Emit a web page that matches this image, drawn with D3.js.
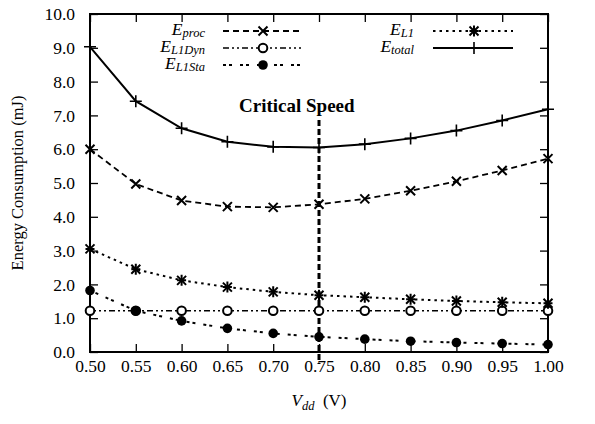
<!DOCTYPE html>
<html>
<head>
<meta charset="utf-8">
<script src="https://cdn.jsdelivr.net/npm/d3@7"></script>
<style>
body { margin:0; background:#fff; }
</style>
</head>
<body>
<svg id="chart" width="595" height="424"></svg>
<script>

// data
var vdd = [0.50, 0.55, 0.60, 0.65, 0.70, 0.75, 0.80, 0.85, 0.90, 0.95, 1.00];
var eTotal = [9.03, 7.42, 6.62, 6.22, 6.07, 6.05, 6.15, 6.32, 6.55, 6.85, 7.18];
var eProc = [6.00, 4.97, 4.48, 4.30, 4.28, 4.37, 4.53, 4.77, 5.05, 5.37, 5.72];
var eL1 = [3.05, 2.45, 2.12, 1.92, 1.78, 1.68, 1.62, 1.56, 1.51, 1.47, 1.44];
var eL1Dyn = [1.22, 1.22, 1.22, 1.22, 1.22, 1.22, 1.22, 1.22, 1.22, 1.22, 1.22];
var eL1Sta = [1.82, 1.22, 0.92, 0.70, 0.55, 0.45, 0.38, 0.32, 0.28, 0.25, 0.22];
var yTicks = [0, 1, 2, 3, 4, 5, 6, 7, 8, 9, 10];
var criticalSpeed = 0.75;

var colorBlack = '#000';
var serifFont = "'Liberation Serif', 'Times New Roman', Times, 'DejaVu Serif', serif";

var svg = d3.select('#chart')
            .attr('font-family', serifFont);

var plotLeft = 90, plotRight = 548, plotTop = 14, plotBottom = 352;

var x = d3.scaleLinear().domain([0.5, 1.0]).range([plotLeft, plotRight]);
var y = d3.scaleLinear().domain([0, 10]).range([plotBottom, plotTop]);

// axes, ticks inside
var axisB = d3.axisBottom(x).tickValues(vdd).tickFormat(d3.format('.2f'))
              .tickSizeInner(-8).tickSizeOuter(0).tickPadding(8);
var axisT = d3.axisTop(x).tickValues(vdd).tickFormat('')
              .tickSizeInner(-8).tickSizeOuter(0);
var axisL = d3.axisLeft(y).tickValues(yTicks).tickFormat(d3.format('.1f'))
              .tickSizeInner(-8).tickSizeOuter(0).tickPadding(15);
var axisR = d3.axisRight(y).tickValues(yTicks).tickFormat('')
              .tickSizeInner(-8).tickSizeOuter(0);

function styleAxis(g) {
  g.attr('font-family', serifFont).attr('font-size', 17.5);
  g.select('.domain').remove();
  g.selectAll('.tick line').attr('stroke', colorBlack).attr('stroke-width', 1.3);
  g.selectAll('.tick text').attr('fill', colorBlack);
}

svg.append('g').attr('transform', 'translate(0,' + plotBottom + ')').call(axisB).call(styleAxis);
svg.append('g').attr('transform', 'translate(0,' + plotTop + ')').call(axisT).call(styleAxis);
svg.append('g').attr('transform', 'translate(' + plotLeft + ',0)').call(axisL).call(styleAxis);
svg.append('g').attr('transform', 'translate(' + plotRight + ',0)').call(axisR).call(styleAxis);

svg.append('rect')
   .attr('x', plotLeft)
   .attr('y', plotTop)
   .attr('width', plotRight - plotLeft)
   .attr('height', plotBottom - plotTop)
   .attr('fill', 'none')
   .attr('stroke', colorBlack)
   .attr('stroke-width', 2);

// axis titles
svg.append('text')
   .text('Energy Consumption (mJ)')
   .attr('transform', 'translate(23,' + ((plotTop + plotBottom) / 2) + ') rotate(-90)')
   .attr('text-anchor', 'middle')
   .attr('font-size', 16.5);

var xTitle = svg.append('text')
                .attr('x', (plotLeft + plotRight) / 2)
                .attr('y', 406)
                .attr('text-anchor', 'middle')
                .attr('font-size', 17);
xTitle.append('tspan').text('V').attr('font-style', 'italic');
xTitle.append('tspan').text('dd').attr('font-style', 'italic')
      .attr('font-size', 12.5).attr('dy', 4);
xTitle.append('tspan').text('\u00a0\u00a0(V)').attr('dy', -4);

// critical speed marker
svg.append('line')
   .attr('x1', x(criticalSpeed))
   .attr('x2', x(criticalSpeed))
   .attr('y1', 120)
   .attr('y2', 364)
   .attr('stroke', colorBlack)
   .attr('stroke-width', 3)
   .attr('stroke-dasharray', '6,3');

svg.append('text')
   .text('Critical Speed')
   .attr('x', x(criticalSpeed) - 80)
   .attr('y', 112)
   .attr('text-anchor', 'start')
   .attr('font-size', 19)
   .attr('font-weight', 'bold');

// markers
function drawMarker(g, kind, cx, cy) {
  var s = 4.5;
  if (kind === 'cross' || kind === 'star') {
    g.append('path').attr('d', 'M' + (cx - s) + ',' + (cy - s) + 'L' + (cx + s) + ',' + (cy + s) +
                               'M' + (cx - s) + ',' + (cy + s) + 'L' + (cx + s) + ',' + (cy - s))
     .attr('stroke', colorBlack).attr('stroke-width', 2).attr('fill', 'none');
  }
  if (kind === 'star') {
    g.append('path').attr('d', 'M' + cx + ',' + (cy - s - 1) + 'L' + cx + ',' + (cy + s + 1) +
                               'M' + (cx - s) + ',' + cy + 'L' + (cx + s) + ',' + cy)
     .attr('stroke', colorBlack).attr('stroke-width', 2).attr('fill', 'none');
  }
  if (kind === 'plus') {
    g.append('path').attr('d', 'M' + cx + ',' + (cy - 6) + 'L' + cx + ',' + (cy + 6) +
                               'M' + (cx - 6) + ',' + cy + 'L' + (cx + 6) + ',' + cy)
     .attr('stroke', colorBlack).attr('stroke-width', 1.6).attr('fill', 'none');
  }
  if (kind === 'circle') {
    g.append('circle').attr('cx', cx).attr('cy', cy).attr('r', 4.3)
     .attr('fill', '#fff').attr('stroke', colorBlack).attr('stroke-width', 2);
  }
  if (kind === 'dot') {
    g.append('circle').attr('cx', cx).attr('cy', cy).attr('r', 4.8)
     .attr('fill', colorBlack);
  }
}

var series = [
  { name: 'proc',   values: eProc,   dash: '6,4',          width: 1.8, marker: 'cross' },
  { name: 'L1Dyn',  values: eL1Dyn,  dash: '6,3,2,3,2,3',  width: 1.6, marker: 'circle' },
  { name: 'L1Sta',  values: eL1Sta,  dash: '3,3,3,8',      width: 2,   marker: 'dot' },
  { name: 'L1',     values: eL1,     dash: '2.5,4',        width: 2,   marker: 'star' },
  { name: 'total',  values: eTotal,  dash: null,           width: 2,   marker: 'plus' }
];

var line = d3.line()
             .x(function(d, i) { return x(vdd[i]); })
             .y(function(d) { return y(d); });

series.forEach(function(s) {
  svg.append('path')
     .datum(s.values)
     .attr('d', line)
     .attr('fill', 'none')
     .attr('stroke', colorBlack)
     .attr('stroke-width', s.width)
     .attr('stroke-dasharray', s.dash);
  var g = svg.append('g');
  s.values.forEach(function(v, i) { drawMarker(g, s.marker, x(vdd[i]), y(v)); });
});

// legend
var legendPos = [
  { labelX: 205, lineX1: 223, lineX2: 301, y: 31 },
  { labelX: 205, lineX1: 223, lineX2: 301, y: 48 },
  { labelX: 205, lineX1: 223, lineX2: 301, y: 65 },
  { labelX: 414, lineX1: 433, lineX2: 513, y: 31 },
  { labelX: 414, lineX1: 433, lineX2: 513, y: 48 }
];

series.forEach(function(s, i) {
  var p = legendPos[i];
  var t = svg.append('text')
             .attr('x', p.labelX)
             .attr('y', p.y + 4)
             .attr('text-anchor', 'end')
             .attr('font-style', 'italic')
             .attr('font-size', 17.5);
  t.append('tspan').text('E');
  t.append('tspan').text(s.name).attr('font-size', 12.5).attr('dy', 2);
  svg.append('line')
     .attr('x1', p.lineX1)
     .attr('x2', p.lineX2)
     .attr('y1', p.y)
     .attr('y2', p.y)
     .attr('stroke', colorBlack)
     .attr('stroke-width', s.width)
     .attr('stroke-dasharray', s.dash);
  drawMarker(svg.append('g'), s.marker, (p.lineX1 + p.lineX2) / 2 + 1, p.y);
});

</script>
</body>
</html>
